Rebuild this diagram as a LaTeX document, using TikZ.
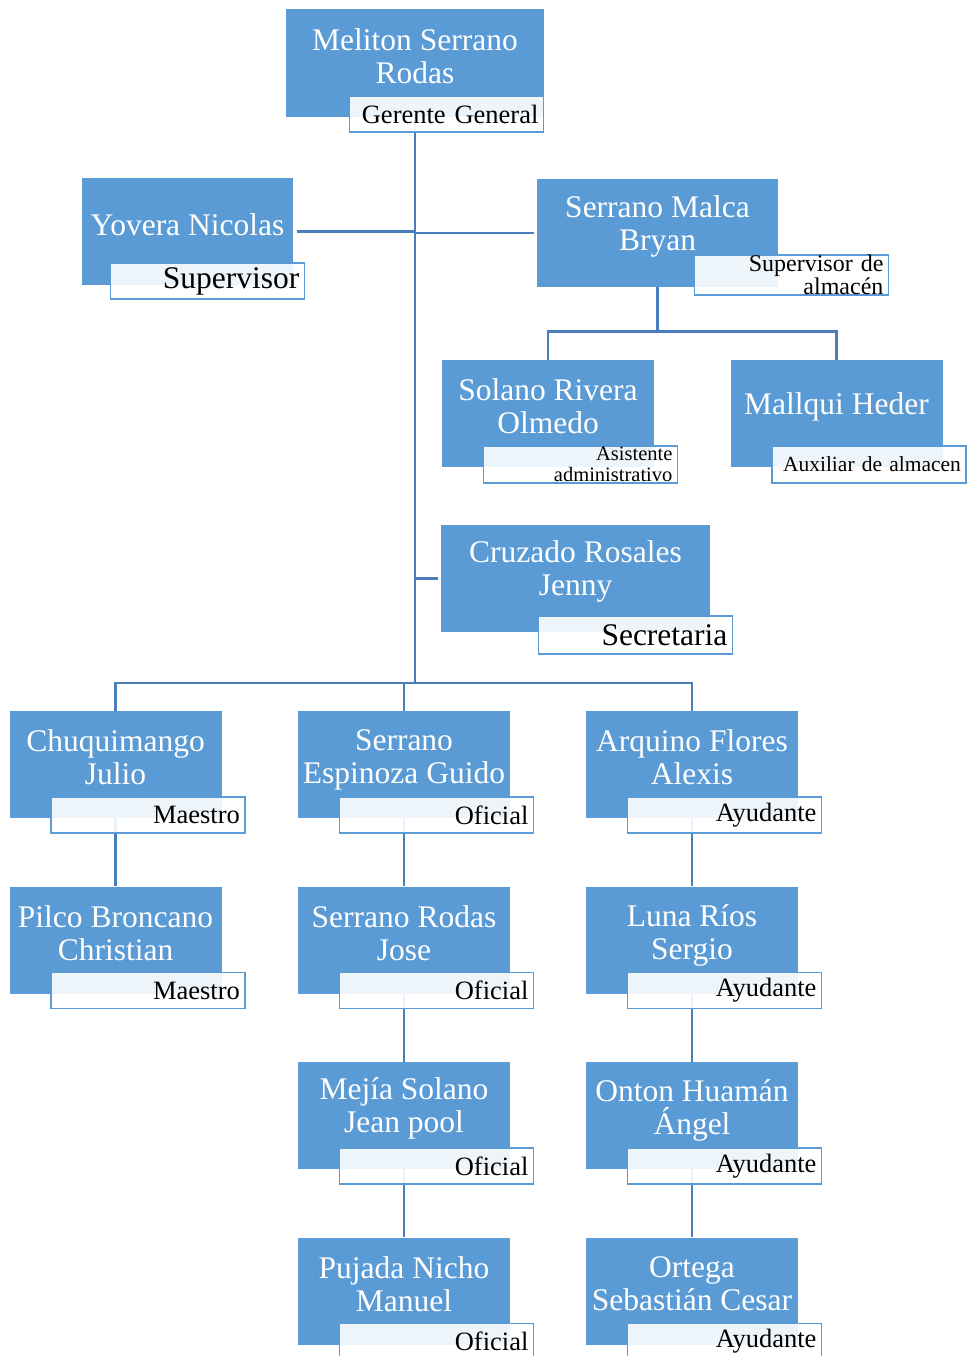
\documentclass[tikz,border=0pt]{standalone}
\usepackage{fontspec}
\setmainfont{Liberation Serif}
\usetikzlibrary{positioning, backgrounds}
\definecolor{cajaazul}{HTML}{5B9BD5}
\definecolor{lineaazul}{HTML}{4A7EBB}
\tikzset{
  caja/.style={fill=cajaazul, minimum width=212pt, minimum height=107pt, inner sep=0pt},
  nombre/.style={text=white, align=center, inner sep=0pt, font=\fontsize{31.5}{33}\selectfont},
  cargo/.style={draw=cajaazul, line width=1.6pt, fill=white, fill opacity=0.9, text opacity=1,
    minimum width=194pt, minimum height=36pt, text width=184pt, align=right,
    inner xsep=5pt, inner ysep=0pt, anchor=north east, font=\fontsize{26.5}{28}\selectfont},
  linea/.style={draw=lineaazul, line width=2.6pt},
}

\begin{document}
\begin{tikzpicture}[x=1pt, y=-1pt]
    \useasboundingbox (0,0) rectangle (968,1356);

    \node[caja, minimum width=258pt, minimum height=108pt] (ger) at (415,63) {};
    \node[nombre] at ([yshift=7pt]ger.center) {Meliton Serrano\\Rodas};
    \node[cargo] (gerc) at ([yshift=22pt]ger.south east) {Gerente General};

    \node[caja, minimum width=211pt] (yov) at (187.5,231.5) {};
    \node[nombre] at ([yshift=7pt]yov.center) {Yovera Nicolas};
    \node[cargo, font=\fontsize{31.5}{33}\selectfont] (yovc) at ([xshift=12pt,yshift=23pt]yov.south east) {Supervisor};

    \node[caja, minimum width=241pt, minimum height=108pt] (ser) at (657.5,233) {};
    \node[nombre] at ([yshift=7pt]ser.center) {Serrano Malca\\Bryan};
    \node[cargo, minimum height=38pt, font=\fontsize{24}{23}\selectfont] (serc) at ([xshift=111pt,yshift=33pt]ser.south east) {Supervisor de\\almacén};

    \node[caja] (sol) at (548,413.5) {};
    \node[nombre] at ([yshift=7pt]sol.center) {Solano Rivera\\Olmedo};
    \node[cargo, minimum height=37pt, font=\fontsize{20.5}{21}\selectfont] (solc) at ([xshift=24pt,yshift=22pt]sol.south east) {Asistente\\administrativo};

    \node[caja] (mal) at (836.5,413.5) {};
    \node[nombre] at ([yshift=7pt]mal.center) {Mallqui Heder};
    \node[cargo, minimum height=37pt, font=\fontsize{21.5}{23}\selectfont] (malc) at ([xshift=24pt,yshift=22pt]mal.south east) {Auxiliar de almacen};

    \node[caja, minimum width=269pt] (cru) at (575.5,578.5) {};
    \node[nombre] at ([yshift=7pt]cru.center) {Cruzado Rosales\\Jenny};
    \node[cargo, minimum height=38pt, font=\fontsize{31.5}{33}\selectfont] (cruc) at ([xshift=23pt,yshift=17pt]cru.south east) {Secretaria};

    \node[caja] (chu) at (115.5,764.5) {};
    \node[nombre] at ([yshift=7pt]chu.center) {Chuquimango\\Julio};
    \node[cargo] (chuc) at ([xshift=24pt,yshift=22pt]chu.south east) {Maestro};

    \node[caja] (pil) at (115.5,940) {};
    \node[nombre] at ([yshift=7pt]pil.center) {Pilco Broncano\\Christian};
    \node[cargo] (pilc) at ([xshift=24pt,yshift=22pt]pil.south east) {Maestro};

    \node[caja] (esp) at (404,764.5) {};
    \node[nombre] at ([yshift=5pt]esp.center) {Serrano\\Espinoza Guido};
    \node[cargo] (espc) at ([xshift=24pt,yshift=22pt]esp.south east) {Oficial};

    \node[caja] (jos) at (404,940) {};
    \node[nombre] at ([yshift=7pt]jos.center) {Serrano Rodas\\Jose};
    \node[cargo] (josc) at ([xshift=24pt,yshift=22pt]jos.south east) {Oficial};

    \node[caja] (mej) at (404,1115.5) {};
    \node[nombre] at ([yshift=7pt]mej.center) {Mejía Solano\\Jean pool};
    \node[cargo] (mejc) at ([xshift=24pt,yshift=22pt]mej.south east) {Oficial};

    \node[caja] (puj) at (404,1291) {};
    \node[nombre] at ([yshift=7pt]puj.center) {Pujada Nicho\\Manuel};
    \node[cargo] (pujc) at ([xshift=24pt,yshift=22pt]puj.south east) {Oficial};

    \node[caja] (arq) at (692,764.5) {};
    \node[nombre] at ([yshift=7pt]arq.center) {Arquino Flores\\Alexis};
    \node[cargo] (arqc) at ([xshift=24pt,yshift=22pt]arq.south east) {Ayudante};

    \node[caja] (lun) at (692,940) {};
    \node[nombre] at ([yshift=5pt]lun.center) {Luna Ríos\\Sergio};
    \node[cargo] (lunc) at ([xshift=24pt,yshift=22pt]lun.south east) {Ayudante};

    \node[caja] (ont) at (692,1115.5) {};
    \node[nombre] at ([yshift=5pt]ont.center) {Onton Huamán\\Ángel};
    \node[cargo] (ontc) at ([xshift=24pt,yshift=22pt]ont.south east) {Ayudante};

    \node[caja] (ort) at (692,1291) {};
    \node[nombre] at ([yshift=7pt]ort.center) {Ortega\\Sebastián Cesar};
    \node[cargo] (ortc) at ([xshift=24pt,yshift=22pt]ort.south east) {Ayudante};

    \begin{scope}[on background layer]
        \coordinate (bus) at (415,683);
        \draw[linea] (ger.south) -- (bus);
        \draw[linea] ([xshift=4pt]yov.east) -- (yov.east -| ger.south);
        \draw[linea] ([xshift=-3pt]ser.west) -- (ser.west -| ger.south);
        \draw[linea] ([xshift=-3pt]cru.west) -- (cru.west -| ger.south);
        \draw[linea] (ser.south) -- ++(0,44) coordinate (serb) -| (sol.north);
        \draw[linea] (serb) -| (mal.north);
        \draw[linea] (bus) -| (chu.north);
        \draw[linea] (bus) -| (esp.north);
        \draw[linea] (bus) -| (arq.north);
        \draw[linea] (chu.south) -- (pil.north);
        \draw[linea] (esp.south) -- (jos.north);
        \draw[linea] (jos.south) -- (mej.north);
        \draw[linea] (mej.south) -- (puj.north);
        \draw[linea] (arq.south) -- (lun.north);
        \draw[linea] (lun.south) -- (ont.north);
        \draw[linea] (ont.south) -- (ort.north);
    \end{scope}
\end{tikzpicture}
\end{document}
